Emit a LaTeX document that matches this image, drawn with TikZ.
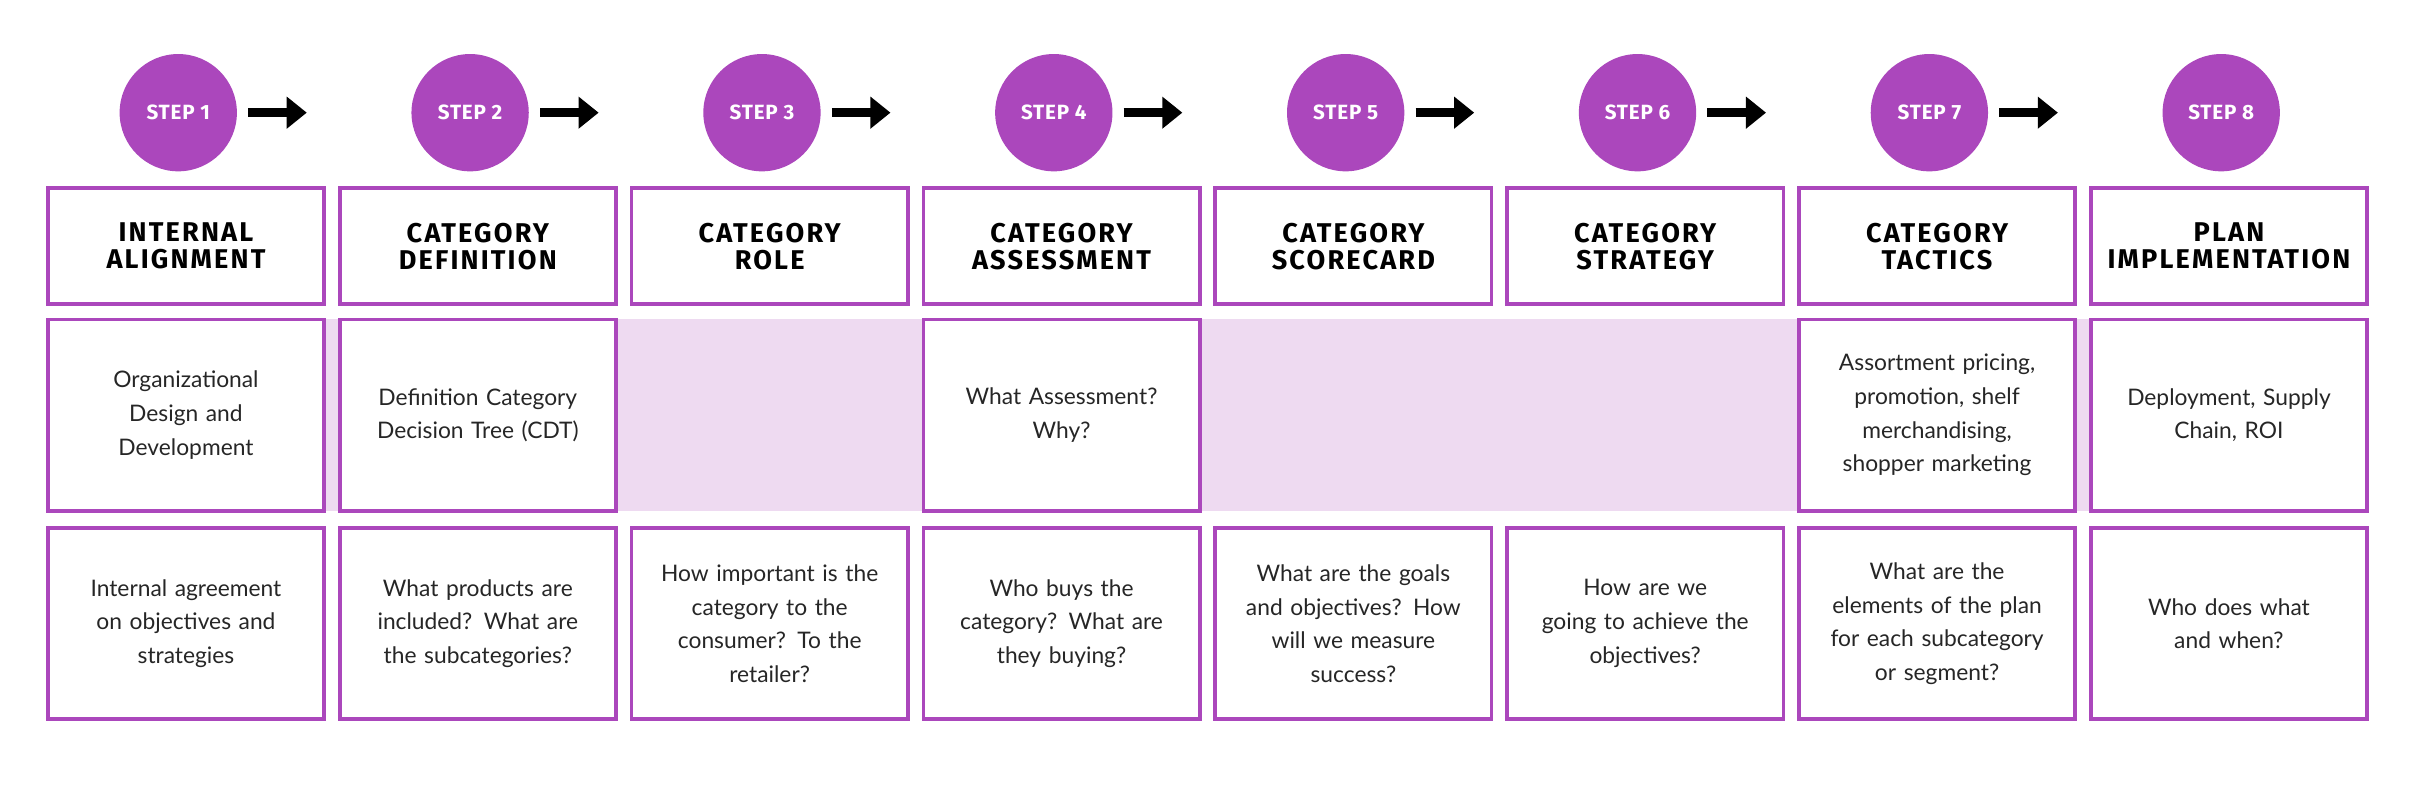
\documentclass[tikz,border=0pt]{standalone}
\usepackage{fontspec}
\setmainfont{Lato}
\newfontfamily\headfont[LetterSpace=8]{Fira Sans}
\newfontfamily\stepfont[LetterSpace=4]{Fira Sans}
\usetikzlibrary{arrows.meta}
\definecolor{stepPurple}{HTML}{AB47BC}
\definecolor{bandPurple}{HTML}{EEDAF1}
\tikzset{
  stepcircle/.style={circle, fill=stepPurple, minimum size=19mm, inner sep=0pt,
    text=white, font=\stepfont\bfseries\fontsize{9.5}{10}\selectfont},
  headbox/.style={draw=stepPurple, line width=0.6mm, minimum width=44.75mm, minimum height=18.75mm,
    inner sep=0pt, align=center, font=\headfont\bfseries\fontsize{12.5}{12.5}\selectfont},
  textbox/.style={draw=stepPurple, line width=0.6mm, fill=white, minimum width=44.75mm,
    minimum height=31mm, inner sep=0pt, text width=38mm, align=center,
    font=\fontsize{10.5}{15.5}\selectfont, text=black!85},
  nextarrow/.style={line width=1.5mm, -{Triangle[angle=75:1.1mm 2]}}
}
\begin{document}
\begin{tikzpicture}[x=0.25mm, y=-0.25mm]
\useasboundingbox (0,0) rectangle (1568,513);

% band behind the middle row
\fill[bandPurple] (31,207) rectangle (1535,331);

\foreach \i/\head/\mid/\low in {
  1/{INTERNAL\\ALIGNMENT}/{Organizational\\Design and\\Development}/{Internal agreement\\on objectives and\\strategies},
  2/{CATEGORY\\DEFINITION}/{Definition Category\\Decision Tree (CDT)}/{What products are\\included? What are\\the subcategories?},
  3/{CATEGORY\\ROLE}/{}/{How important is the\\category to the\\consumer? To the\\retailer?},
  4/{CATEGORY\\ASSESSMENT}/{What Assessment?\\Why?}/{Who buys the\\category? What are\\they buying?},
  5/{CATEGORY\\SCORECARD}/{}/{What are the goals\\and objectives? How\\will we measure\\success?},
  6/{CATEGORY\\STRATEGY}/{}/{How are we\\going to achieve the\\objectives?},
  7/{CATEGORY\\TACTICS}/{Assortment pricing,\\promotion, shelf\\merchandising,\\shopper marketing}/{What are the\\elements of the plan\\for each subcategory\\or segment?},
  8/{PLAN\\IMPLEMENTATION}/{Deployment, Supply\\Chain, ROI}/{Who does what\\and when?}}
{
  \pgfmathsetmacro{\cx}{120.5+189.1*(\i-1)}
  \node[stepcircle] (step\i) at (\cx-5,73) {STEP \i};
  \node[headbox] (head\i) at (\cx,159.5) {\head};
  \node[textbox] (low\i) at (\cx,404) {\low};
  \ifx\mid\empty\else
    \node[textbox] (mid\i) at (\cx,269) {\mid};
  \fi
}

% arrows between the steps
\foreach \i in {1,...,7}{
  \draw[nextarrow] ([xshift=1.75mm]step\i.east) -- ++(38,0);
}
\end{tikzpicture}
\end{document}
